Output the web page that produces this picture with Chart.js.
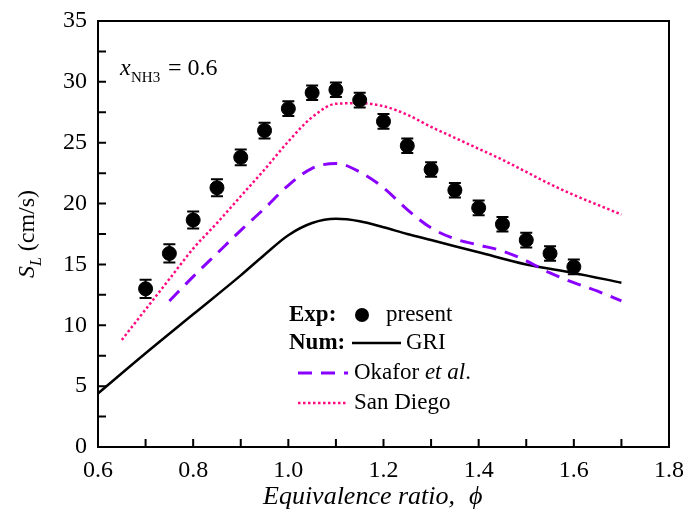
<!DOCTYPE html>
<html>
<head>
<meta charset="utf-8">
<script src="https://cdn.jsdelivr.net/npm/chart.js@4.4.0/dist/chart.umd.min.js"></script>
<style>
  html, body { margin: 0; padding: 0; background: #fff; }
</style>
</head>
<body>
<canvas id="c" width="683" height="513"></canvas>
<script>
// experiment (present)
const phiExp = [0.70, 0.75, 0.80, 0.85, 0.90, 0.95, 1.00, 1.05, 1.10, 1.15, 1.20, 1.25, 1.30, 1.35, 1.40, 1.45, 1.50, 1.55, 1.60];
const slExp  = [13.0, 15.9, 18.65, 21.3, 23.8, 26.0, 27.8, 29.1, 29.35, 28.5, 26.75, 24.75, 22.8, 21.1, 19.65, 18.3, 17.0, 15.9, 14.8];
const errExp = [0.75, 0.75, 0.7, 0.7, 0.65, 0.65, 0.6, 0.6, 0.6, 0.6, 0.6, 0.6, 0.6, 0.6, 0.6, 0.6, 0.6, 0.6, 0.6];

// GRI
const phiGRI = [0.6, 0.7, 0.8, 0.9, 0.95, 1.0, 1.05, 1.1, 1.15, 1.2, 1.25, 1.3, 1.4, 1.5, 1.6, 1.7];
const slGRI  = [4.4, 7.7, 10.9, 14.1, 15.8, 17.4, 18.4, 18.75, 18.55, 18.05, 17.5, 17.0, 16.0, 15.0, 14.3, 13.5];

// Okafor et al.
const phiOka = [0.75, 0.8, 0.85, 0.9, 0.95, 1.0, 1.05, 1.1, 1.15, 1.2, 1.25, 1.3, 1.35, 1.4, 1.45, 1.5, 1.55, 1.6, 1.65, 1.7];
const slOka  = [12.0, 14.0, 15.9, 17.8, 19.6, 21.5, 22.9, 23.3, 22.6, 21.3, 19.5, 18.0, 17.1, 16.6, 16.1, 15.3, 14.3, 13.5, 12.8, 12.0];

// San Diego
const phiSD = [0.65, 0.7, 0.75, 0.8, 0.85, 0.9, 0.95, 1.0, 1.05, 1.1, 1.15, 1.2, 1.25, 1.3, 1.35, 1.4, 1.45, 1.5, 1.55, 1.6, 1.65, 1.7];
const slSD  = [8.8, 11.3, 13.8, 16.3, 18.4, 20.6, 22.8, 25.1, 27.1, 28.2, 28.25, 28.0, 27.3, 26.3, 25.4, 24.5, 23.6, 22.6, 21.6, 20.7, 19.9, 19.1];

// tick labels
const xTicks = [0.6, 0.8, 1.0, 1.2, 1.4, 1.6, 1.8];
const yTicks = [0, 5, 10, 15, 20, 25, 30, 35];

const SERIF = '"Liberation Serif", "Times New Roman", serif';
const PINK = '#ff0a80';
const PURPLE = '#8a00ff';

function pts(xs, ys) {
  return xs.map(function (x, i) { return { x: x, y: ys[i] }; });
}

// error bars under the points
const errorBars = {
  id: 'errorBars',
  beforeDatasetsDraw: function (chart) {
    const ctx = chart.ctx;
    const xs = chart.scales.x, ys = chart.scales.y;
    ctx.save();
    ctx.strokeStyle = '#000';
    ctx.lineWidth = 2;
    phiExp.forEach(function (p, i) {
      const px = xs.getPixelForValue(p);
      const top = ys.getPixelForValue(slExp[i] + errExp[i]);
      const bot = ys.getPixelForValue(slExp[i] - errExp[i]);
      ctx.beginPath();
      ctx.moveTo(px, top); ctx.lineTo(px, bot);
      ctx.moveTo(px - 6, top); ctx.lineTo(px + 6, top);
      ctx.moveTo(px - 6, bot); ctx.lineTo(px + 6, bot);
      ctx.stroke();
    });
    ctx.restore();
  }
};

// frame, inward ticks, titles, annotation, legend
const decor = {
  id: 'decor',
  afterDraw: function (chart) {
    const ctx = chart.ctx;
    const a = chart.chartArea;
    const xs = chart.scales.x, ys = chart.scales.y;
    ctx.save();
    ctx.strokeStyle = '#000';
    ctx.lineWidth = 2;
    ctx.strokeRect(a.left, a.top, a.right - a.left, a.bottom - a.top);

    // ticks every 0.1 / 2.5, pointing inside
    ctx.beginPath();
    for (let i = 1; i < 12; i++) {
      const px = xs.getPixelForValue(0.6 + i * 0.1);
      ctx.moveTo(px, a.bottom); ctx.lineTo(px, a.bottom - 8);
    }
    for (let j = 1; j < 14; j++) {
      const py = ys.getPixelForValue(j * 2.5);
      ctx.moveTo(a.left, py); ctx.lineTo(a.left + 8, py);
    }
    ctx.stroke();

    ctx.fillStyle = '#000';
    ctx.textBaseline = 'alphabetic';

    // x title
    ctx.font = 'italic 26px ' + SERIF;
    ctx.textAlign = 'left';
    ctx.fillText('Equivalence ratio,', 263, 504);
    ctx.fillText('\u03D5', 469, 504);

    // y title  S_L (cm/s)
    ctx.save();
    ctx.translate(34, (a.top + a.bottom) / 2);
    ctx.rotate(-Math.PI / 2);
    ctx.font = 'italic 24px ' + SERIF;
    const wS = ctx.measureText('S').width;
    ctx.font = 'italic 16px ' + SERIF;
    const wL = ctx.measureText('L').width;
    ctx.font = '24px ' + SERIF;
    const wR = ctx.measureText(' (cm/s)').width;
    let x0 = -(wS + wL + wR) / 2;
    ctx.font = 'italic 24px ' + SERIF;
    ctx.fillText('S', x0, 0);
    ctx.font = 'italic 16px ' + SERIF;
    ctx.fillText('L', x0 + wS, 7);
    ctx.font = '24px ' + SERIF;
    ctx.fillText(' (cm/s)', x0 + wS + wL, 0);
    ctx.restore();

    // x_NH3 = 0.6
    ctx.font = 'italic 24px ' + SERIF;
    ctx.fillText('x', 120, 75);
    ctx.font = '15px ' + SERIF;
    ctx.fillText('NH3', 131, 82);
    ctx.font = '24px ' + SERIF;
    ctx.fillText('= 0.6', 168, 75);

    // legend
    ctx.textBaseline = 'middle';
    ctx.font = 'bold 23px ' + SERIF;
    ctx.fillText('Exp:', 289, 315);
    ctx.fillText('Num:', 289, 343);
    ctx.font = '23px ' + SERIF;
    ctx.fillText('present', 386, 315);
    ctx.fillText('GRI', 406, 343);
    ctx.fillText('Okafor ', 354, 373);
    const wO = ctx.measureText('Okafor ').width;
    ctx.font = 'italic 23px ' + SERIF;
    ctx.fillText('et al', 354 + wO, 373);
    const wE = ctx.measureText('et al').width;
    ctx.font = '23px ' + SERIF;
    ctx.fillText('.', 354 + wO + wE, 373);
    ctx.fillText('San Diego', 354, 403);

    ctx.beginPath();
    ctx.arc(362, 315, 7, 0, Math.PI * 2);
    ctx.fill();

    ctx.lineWidth = 2.5;
    ctx.beginPath();
    ctx.moveTo(352, 343); ctx.lineTo(401, 343);
    ctx.stroke();

    ctx.strokeStyle = PURPLE;
    ctx.lineWidth = 3;
    ctx.setLineDash([14, 9]);
    ctx.beginPath();
    ctx.moveTo(298, 373); ctx.lineTo(348, 373);
    ctx.stroke();

    ctx.strokeStyle = PINK;
    ctx.lineWidth = 2.5;
    ctx.setLineDash([2.5, 2.5]);
    ctx.beginPath();
    ctx.moveTo(298, 403); ctx.lineTo(346, 403);
    ctx.stroke();
    ctx.restore();
  }
};

new Chart(document.getElementById('c'), {
  type: 'line',
  data: {
    datasets: [
      {
        label: 'present',
        data: pts(phiExp, slExp),
        showLine: false,
        pointRadius: 7,
        pointBackgroundColor: '#000',
        pointBorderColor: '#000',
        order: 0
      },
      {
        label: 'GRI',
        data: pts(phiGRI, slGRI),
        borderColor: '#000',
        borderWidth: 2.5,
        pointRadius: 0,
        cubicInterpolationMode: 'monotone',
        order: 3
      },
      {
        label: 'Okafor et al.',
        data: pts(phiOka, slOka),
        borderColor: PURPLE,
        borderWidth: 3,
        borderDash: [14, 9],
        pointRadius: 0,
        cubicInterpolationMode: 'monotone',
        order: 2
      },
      {
        label: 'San Diego',
        data: pts(phiSD, slSD),
        borderColor: PINK,
        borderWidth: 2.5,
        borderDash: [2.5, 2.5],
        pointRadius: 0,
        cubicInterpolationMode: 'monotone',
        order: 1
      }
    ]
  },
  options: {
    responsive: false,
    animation: false,
    devicePixelRatio: 1,
    layout: { padding: { top: 21, right: 14, left: 0, bottom: 0 } },
    plugins: { legend: { display: false }, tooltip: { enabled: false } },
    scales: {
      x: {
        type: 'linear',
        min: 0.6,
        max: 1.8,
        afterBuildTicks: function (s) { s.ticks = xTicks.map(function (v) { return { value: v }; }); },
        afterFit: function (s) { s.height = 66; s.paddingLeft = 0; s.paddingRight = 0; },
        grid: { display: false, drawTicks: false },
        border: { display: false },
        ticks: {
          padding: 9,
          maxRotation: 0,
          color: '#000',
          font: { family: SERIF, size: 24 },
          callback: function (v) { return v.toFixed(1); }
        }
      },
      y: {
        min: 0,
        max: 35,
        afterBuildTicks: function (s) { s.ticks = yTicks.map(function (v) { return { value: v }; }); },
        afterFit: function (s) { s.width = 98; s.paddingTop = 0; s.paddingBottom = 0; },
        grid: { display: false, drawTicks: false },
        border: { display: false },
        ticks: {
          padding: 11,
          color: '#000',
          font: { family: SERIF, size: 24 }
        }
      }
    }
  },
  plugins: [errorBars, decor]
});
</script>
</body>
</html>
